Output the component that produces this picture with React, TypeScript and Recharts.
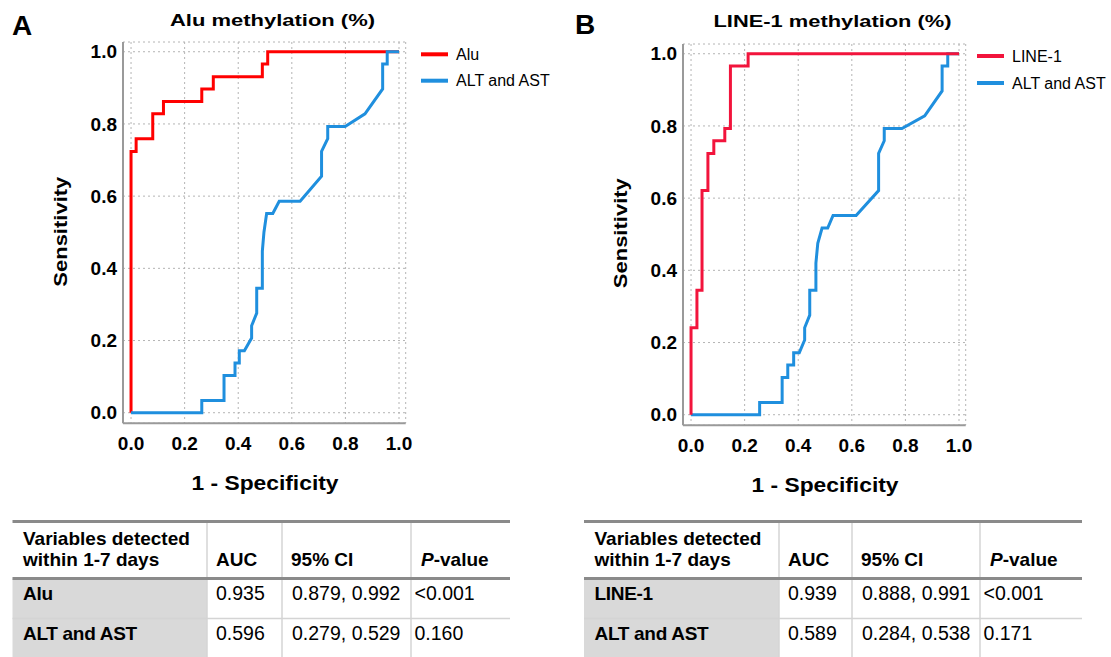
import React from 'react';
import { LineChart, Line, XAxis, YAxis, CartesianGrid } from 'recharts';

// ---- data ----
const axisTicks = [0, 0.2, 0.4, 0.6, 0.8, 1.0];

// Panel A: Alu methylation ROC
const aluFpr = [0, 0, 0.019, 0.019, 0.081, 0.081, 0.121, 0.121, 0.264, 0.264, 0.307, 0.307, 0.49, 0.49, 0.51, 0.51, 1.0];
const aluTpr = [0, 0.724, 0.724, 0.759, 0.759, 0.828, 0.828, 0.862, 0.862, 0.897, 0.897, 0.931, 0.931, 0.966, 0.966, 1.0, 1.0];

const altAFpr = [0, 0.264, 0.264, 0.347, 0.347, 0.388, 0.388, 0.404, 0.404, 0.423, 0.45, 0.45, 0.469, 0.469, 0.49, 0.49, 0.496, 0.506, 0.529, 0.553, 0.631, 0.711, 0.711, 0.734, 0.734, 0.799, 0.873, 0.939, 0.939, 0.956, 0.956, 1.0];
const altATpr = [0, 0, 0.034, 0.034, 0.103, 0.103, 0.138, 0.138, 0.172, 0.172, 0.207, 0.241, 0.276, 0.345, 0.345, 0.448, 0.5, 0.552, 0.552, 0.586, 0.586, 0.655, 0.724, 0.759, 0.793, 0.793, 0.828, 0.897, 0.966, 0.966, 1.0, 1.0];

// Panel B: LINE-1 methylation ROC
const line1Fpr = [0, 0, 0.022, 0.022, 0.041, 0.041, 0.063, 0.063, 0.085, 0.085, 0.126, 0.126, 0.147, 0.147, 0.213, 0.213, 1.0];
const line1Tpr = [0, 0.241, 0.241, 0.345, 0.345, 0.621, 0.621, 0.724, 0.724, 0.759, 0.759, 0.793, 0.793, 0.966, 0.966, 1.0, 1.0];

const altBFpr = [0, 0.256, 0.256, 0.34, 0.34, 0.361, 0.361, 0.383, 0.383, 0.404, 0.424, 0.424, 0.443, 0.443, 0.466, 0.466, 0.473, 0.489, 0.51, 0.53, 0.616, 0.7, 0.7, 0.721, 0.721, 0.787, 0.872, 0.937, 0.937, 0.958, 0.958, 1.0];
const altBTpr = [0, 0, 0.034, 0.034, 0.103, 0.103, 0.138, 0.138, 0.172, 0.172, 0.207, 0.241, 0.276, 0.345, 0.345, 0.42, 0.475, 0.517, 0.517, 0.552, 0.552, 0.621, 0.724, 0.759, 0.793, 0.793, 0.828, 0.897, 0.966, 0.966, 1.0, 1.0];

// Tables
const tableHeaderLines = ['Variables detected', 'within 1-7 days'];
const tableColumns = ['AUC', '95% CI', 'P-value'];
const tableRowsA = [
  ['Alu', '0.935', '0.879, 0.992', '<0.001'],
  ['ALT and AST', '0.596', '0.279, 0.529', '0.160'],
];
const tableRowsB = [
  ['LINE-1', '0.939', '0.888, 0.991', '<0.001'],
  ['ALT and AST', '0.589', '0.284, 0.538', '0.171'],
];

// ---- helpers ----
const zip = (xs: number[], ys: number[]) => xs.map((x, i) => ({ x, y: ys[i] }));

const FONT = '"Liberation Sans", Arial, sans-serif';
const RED_A = '#ff0000';
const RED_B = '#f2143c';
const BLUE = '#1f8fde';

type Series = { name: string; data: { x: number; y: number }[]; color: string };

function RocChart({ series }: { series: Series[] }) {
  const tickStyle = { fill: '#000', fontSize: 19, fontWeight: 700, fontFamily: FONT };
  return (
    <LineChart width={420} height={470} margin={{ top: 42, right: 14.3, bottom: 0, left: 63 }}>
      <CartesianGrid stroke="#b4b4b4" strokeDasharray="2 3" strokeWidth={1} />
      <XAxis
        type="number"
        dataKey="x"
        domain={[-0.03, 1.025]}
        ticks={axisTicks}
        interval={0}
        allowDataOverflow
        tickFormatter={(v: number) => v.toFixed(1)}
        tickLine={false}
        tickSize={11}
        tickMargin={2}
        height={46.8}
        axisLine={{ stroke: '#9a9a9a', strokeWidth: 2 }}
        tick={tickStyle}
      />
      <YAxis
        type="number"
        domain={[-0.029, 1.027]}
        ticks={axisTicks}
        interval={0}
        allowDataOverflow
        tickFormatter={(v: number) => v.toFixed(1)}
        tickLine={false}
        tickSize={4}
        tickMargin={2}
        width={60}
        axisLine={{ stroke: '#9a9a9a', strokeWidth: 2 }}
        tick={tickStyle}
      />
      {series.map((s) => (
        <Line
          key={s.name}
          name={s.name}
          data={s.data}
          dataKey="y"
          type="linear"
          stroke={s.color}
          strokeWidth={3}
          dot={false}
          activeDot={false}
          isAnimationActive={false}
        />
      ))}
    </LineChart>
  );
}

function Table({ x0, cols, right, rows, firstName }: { x0: number; cols: number[]; right: number; rows: string[][]; firstName?: string }) {
  // cols: x of column separators [c1, c2, c3]
  const top = 521.5;
  const headSep = 578.5;
  const rowSep = 618.5;
  const bottom = 657;
  const textX = [x0 + 10.5, cols[0] + 9, cols[1] + 9, cols[2] + 10];
  const valX = [x0 + 10.5, cols[0] + 9, cols[1] + 10, cols[2] + 3.5];
  const baselines = [600, 639.5];
  return (
    <g fontFamily={FONT} fill="#000">
      <rect x={x0} y={headSep} width={cols[0] - x0} height={bottom - headSep} fill="#d9d9d9" />
      {cols.map((c, i) => (
        <line key={i} x1={c} x2={c} y1={top} y2={bottom} stroke="#d4d4d4" strokeWidth={1.5} />
      ))}
      <line x1={x0} x2={right} y1={rowSep} y2={rowSep} stroke="#d4d4d4" strokeWidth={1.5} />
      <line x1={x0} x2={right} y1={top} y2={top} stroke="#8a8a8a" strokeWidth={3} />
      <line x1={x0} x2={right} y1={headSep} y2={headSep} stroke="#8a8a8a" strokeWidth={3} />
      <text x={textX[0]} y={545} fontSize={19} fontWeight={700}>{tableHeaderLines[0]}</text>
      <text x={textX[0]} y={565.5} fontSize={19} fontWeight={700}>{tableHeaderLines[1]}</text>
      <text x={textX[1]} y={565.5} fontSize={19} fontWeight={700}>{tableColumns[0]}</text>
      <text x={textX[2]} y={565.5} fontSize={19} fontWeight={700}>{tableColumns[1]}</text>
      <text x={textX[3]} y={565.5} fontSize={19} fontWeight={700}>
        <tspan fontStyle="italic">{tableColumns[2].charAt(0)}</tspan>
        <tspan>{tableColumns[2].slice(1)}</tspan>
      </text>
      {rows.map((r, ri) => (
        <g key={ri}>
          <text x={valX[0]} y={baselines[ri]} fontSize={19} fontWeight={700} letterSpacing={-0.3}>{r[0]}</text>
          <text x={valX[1]} y={baselines[ri]} fontSize={19.5}>{r[1]}</text>
          <text x={valX[2]} y={baselines[ri]} fontSize={19.5}>{r[2]}</text>
          <text x={valX[3]} y={baselines[ri]} fontSize={19.5}>{r[3]}</text>
        </g>
      ))}
    </g>
  );
}

export default function App() {
  const seriesA: Series[] = [
    { name: 'Alu', data: zip(aluFpr, aluTpr), color: RED_A },
    { name: 'ALT and AST', data: zip(altAFpr, altATpr), color: BLUE },
  ];
  const seriesB: Series[] = [
    { name: 'ALT and AST', data: zip(altBFpr, altBTpr), color: BLUE },
    { name: 'LINE-1', data: zip(line1Fpr, line1Tpr), color: RED_B },
  ];
  return (
    <div style={{ position: 'absolute', left: 0, top: 0, width: 1111, height: 657, background: '#fff', overflow: 'hidden' }}>
      <div style={{ position: 'absolute', left: 0, top: 0 }}>
        <RocChart series={seriesA} />
      </div>
      <div style={{ position: 'absolute', left: 559.5, top: 1.5 }}>
        <RocChart series={seriesB} />
      </div>
      <svg width={1111} height={657} style={{ position: 'absolute', left: 0, top: 0, pointerEvents: 'none' }}>
        <g fontFamily={FONT} fill="#000">
          {/* panel letters */}
          <text x={12} y={35} fontSize={28} fontWeight={700}>A</text>
          <text x={575} y={34} fontSize={28} fontWeight={700}>B</text>
          {/* titles */}
          <text x={272.5} y={26} fontSize={17} fontWeight={700} textAnchor="middle" textLength={205} lengthAdjust="spacingAndGlyphs">Alu methylation  (%)</text>
          <text x={832.5} y={27} fontSize={17} fontWeight={700} textAnchor="middle" textLength={238} lengthAdjust="spacingAndGlyphs">LINE-1 methylation  (%)</text>
          {/* x labels */}
          <text x={265} y={490} fontSize={20.5} fontWeight={700} textAnchor="middle" textLength={147} lengthAdjust="spacingAndGlyphs">1 - Specificity</text>
          <text x={825} y={491.5} fontSize={20.5} fontWeight={700} textAnchor="middle" textLength={147} lengthAdjust="spacingAndGlyphs">1 - Specificity</text>
          {/* y labels */}
          <text transform="translate(67,231.7) rotate(-90)" fontSize={18} fontWeight={700} textAnchor="middle" textLength={110} lengthAdjust="spacingAndGlyphs">Sensitivity</text>
          <text transform="translate(626.5,233.2) rotate(-90)" fontSize={18} fontWeight={700} textAnchor="middle" textLength={110} lengthAdjust="spacingAndGlyphs">Sensitivity</text>
          {/* legend A */}
          <line x1={421} x2={448} y1={54.3} y2={54.3} stroke={RED_A} strokeWidth={4} />
          <text x={456} y={59.5} fontSize={16}>{seriesA[0].name}</text>
          <line x1={421} x2={448} y1={80.7} y2={80.7} stroke={BLUE} strokeWidth={4} />
          <text x={456} y={85.5} fontSize={16}>{seriesA[1].name}</text>
          {/* legend B */}
          <line x1={977} x2={1004} y1={56} y2={56} stroke={RED_B} strokeWidth={4} />
          <text x={1012} y={61.5} fontSize={16}>{seriesB[1].name}</text>
          <line x1={977} x2={1004} y1={83} y2={83} stroke={BLUE} strokeWidth={4} />
          <text x={1012} y={88.5} fontSize={16}>{seriesB[0].name}</text>
        </g>
        <Table x0={12.5} cols={[207, 282, 411]} right={510} rows={tableRowsA} />
        <Table x0={584} cols={[779, 852, 980]} right={1082} rows={tableRowsB} />
      </svg>
    </div>
  );
}
